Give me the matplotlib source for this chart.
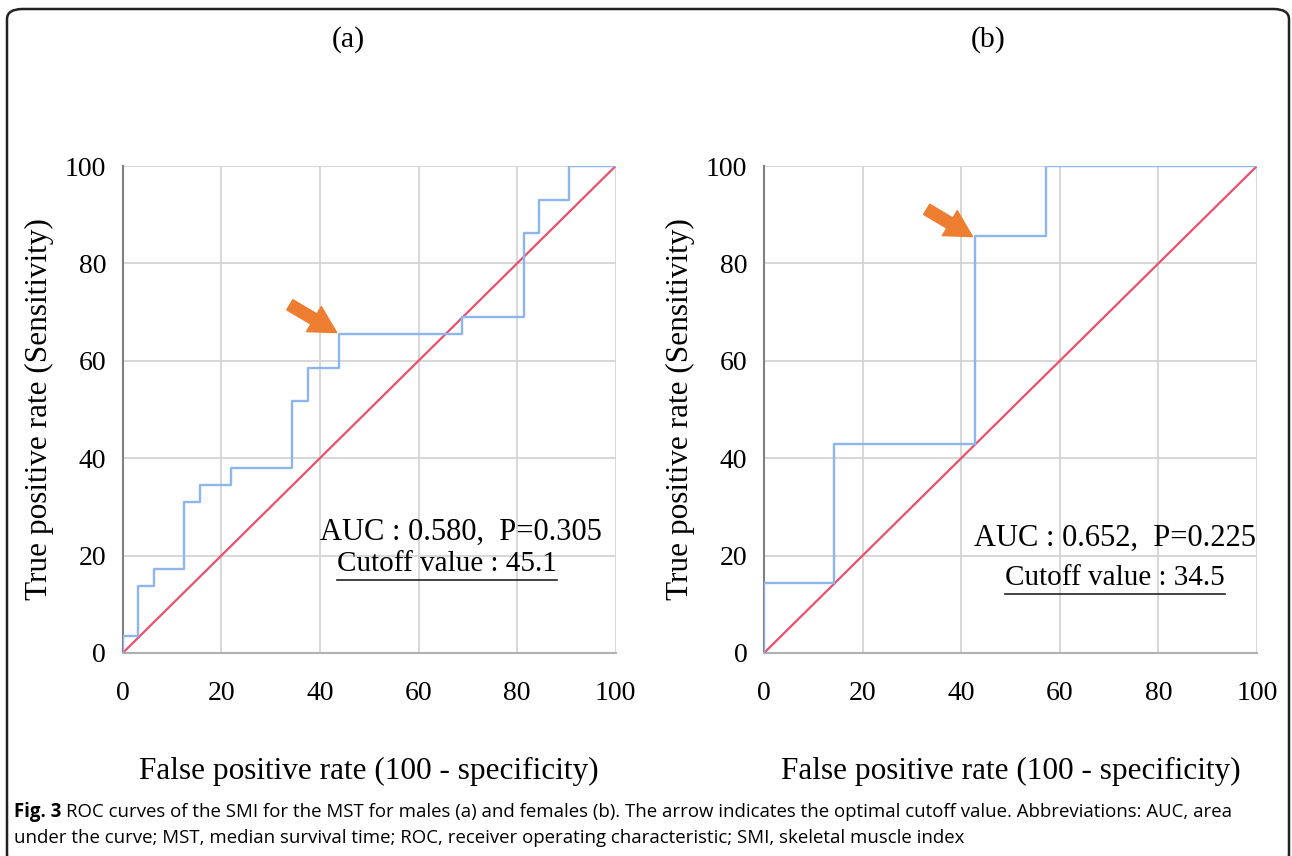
import matplotlib
matplotlib.use("Agg")
import matplotlib.pyplot as plt
from matplotlib.patches import FancyBboxPatch
from matplotlib.lines import Line2D

plt.rcParams['font.family'] = ['Liberation Serif', 'DejaVu Serif']

# ROC points, percent (false positive rate, true positive rate)
fpr_a = [0, 0, 3.1, 3.1, 6.3, 6.3, 12.5, 12.5, 15.6, 15.6, 21.9, 21.9, 34.4, 34.4,
         37.5, 37.5, 43.8, 43.8, 68.8, 68.8, 81.3, 81.3, 84.4, 84.4, 90.6, 90.6, 100]
tpr_a = [0, 3.4, 3.4, 13.8, 13.8, 17.2, 17.2, 31.0, 31.0, 34.5, 34.5, 37.9, 37.9, 51.7,
         51.7, 58.6, 58.6, 65.5, 65.5, 69.0, 69.0, 86.2, 86.2, 93.1, 93.1, 100, 100]
fpr_b = [0, 0, 14.3, 14.3, 42.9, 42.9, 57.1, 57.1, 100]
tpr_b = [0, 14.3, 14.3, 42.9, 42.9, 85.7, 85.7, 100, 100]

ref_line = [0, 100]
ticks = [0, 20, 40, 60, 80, 100]

titles = ['(a)', '(b)']
auc_text = ['AUC : 0.580,  P=0.305', 'AUC : 0.652,  P=0.225']
cut_text = ['Cutoff value : 45.1', 'Cutoff value : 34.5']
auc_pos = [(68.6, 24.8), (71.2, 23.6)]
cut_pos = [(65.8, 18.2), (71.2, 15.4)]
arrow_tail = [(33.9, 71.5), (33.0, 91.1)]
arrow_tip = [(43.4, 65.8), (42.3, 85.5)]

blue = '#8db6ec'
red = '#e8506c'
orange = '#ed7d31'

fig = plt.figure(figsize=(12.92, 8.56), dpi=100)

# rounded frame around the figure
frame = FancyBboxPatch((7 / 1292, -0.01), 1282 / 1292, 1 - 9 / 856 + 0.01,
                       boxstyle="round,pad=0,rounding_size=0.012",
                       transform=fig.transFigure, fill=False, ec='#222222', lw=1.8)
fig.patches.append(frame)

lefts = [122.7 / 1292, 764 / 1292]
w = 493 / 1292
b = (856 - 653) / 856
h = 487 / 856
title_x = [348 / 1292, 988 / 1292]

data = [(fpr_a, tpr_a), (fpr_b, tpr_b)]
cut_objs = []
for i in range(2):
    ax = fig.add_axes([lefts[i], b, w, h])
    fx, ty = data[i]
    ax.plot(ref_line, ref_line, color=red, lw=1.6, zorder=3)
    ax.plot(fx, ty, color=blue, lw=1.7, zorder=4)
    ax.set_xlim(0, 100)
    ax.set_ylim(0, 100)
    ax.set_xticks(ticks)
    ax.set_yticks(ticks)
    ax.grid(True, color='#d4d4d4', lw=1.3)
    ax.set_axisbelow(True)
    for s in ['top', 'right']:
        ax.spines[s].set_visible(False)
    ax.spines['left'].set_color('#808080')
    ax.spines['bottom'].set_color('#b0b0b0')
    ax.spines['left'].set_linewidth(1.5)
    ax.spines['bottom'].set_linewidth(1.5)
    ax.tick_params(axis='x', length=0, pad=20, labelsize=20)
    ax.tick_params(axis='y', length=0, pad=12, labelsize=20)
    ax.set_xlabel('False positive rate (100 - specificity)', fontsize=22.5, labelpad=37)
    ax.set_ylabel('True positive rate (Sensitivity)', fontsize=22.5, labelpad=8)
    ax.text(auc_pos[i][0], auc_pos[i][1], auc_text[i], fontsize=22, ha='center', va='center')
    t = ax.text(cut_pos[i][0], cut_pos[i][1], cut_text[i], fontsize=21, ha='center', va='center')
    cut_objs.append(t)
    ax.annotate('', xy=arrow_tip[i], xytext=arrow_tail[i],
                arrowprops=dict(arrowstyle='simple,head_width=1.1,head_length=1.0,tail_width=0.45',
                                color=orange, shrinkA=0, shrinkB=0, mutation_scale=19))
    fig.text(title_x[i], 1 - 40 / 856, titles[i], fontsize=21.5, ha='center', va='center')

figtxt = fig.text(14 / 1292, 1 - 812 / 856, 'Fig. 3', fontsize=13.4, va='center',
                  family='Open Sans', weight='bold')
fig.canvas.draw()
r = fig.canvas.get_renderer()
inv = fig.transFigure.inverted()

# underline the cutoff texts
for t in cut_objs:
    bb = t.get_window_extent(r)
    (x0, y0), (x1, y1) = inv.transform([(bb.x0, bb.y0 - 3), (bb.x1, bb.y0 - 3)])
    fig.add_artist(Line2D([x0, x1], [y0, y1], transform=fig.transFigure, color='#222222', lw=1.2))

bb = figtxt.get_window_extent(r)
xs = inv.transform([(bb.x1 + 5, 0)])[0][0]
fig.text(xs, 1 - 812 / 856,
         'ROC curves of the SMI for the MST for males (a) and females (b). The arrow indicates the optimal cutoff value. Abbreviations: AUC, area',
         fontsize=13.4, va='center', family=['Open Sans', 'DejaVu Sans'])
fig.text(14 / 1292, 1 - 838 / 856,
         'under the curve; MST, median survival time; ROC, receiver operating characteristic; SMI, skeletal muscle index',
         fontsize=13.4, va='center', family=['Open Sans', 'DejaVu Sans'])

fig.savefig('out.png', dpi=100)
